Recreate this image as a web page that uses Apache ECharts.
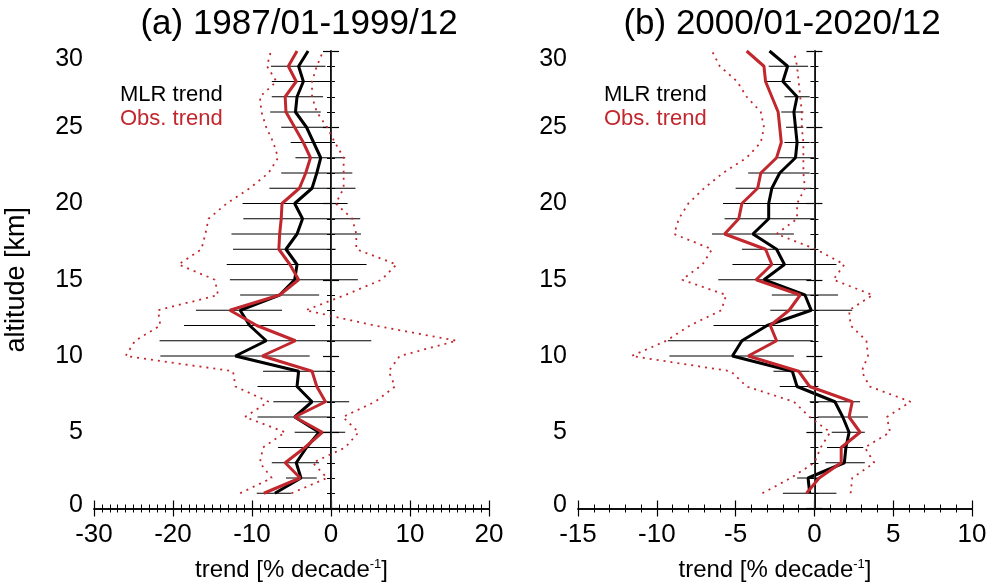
<!DOCTYPE html>
<html>
<head>
<meta charset="utf-8">
<script src="https://cdn.jsdelivr.net/npm/echarts@6/dist/echarts.min.js"></script>
<style>
  html, body { margin: 0; padding: 0; background: #fff; }
  #chart { width: 990px; height: 587px; }
</style>
</head>
<body>
<div id="chart"></div>
<script>
// altitude levels [km]
const ALT = [1, 2, 3, 4, 5, 6, 7, 8, 9, 10, 11, 12, 13, 14, 15, 16, 17, 18, 19, 20,
             21, 22, 23, 24, 25, 26, 27, 28, 29, 30];
const ALT_ERR = ALT.slice(0, 29); // error bars only drawn 1..29 km

// (a) 1987/01-1999/12
const A_MLR = [-7.1, -3.8, -4.4, -3.1, -1.5, -4.6, -2.4, -4.3, -4.1, -12.1, -8.2, -10.3, -11.5, -6.5, -4.6,
               -4.3, -5.7, -4.3, -3.6, -4.6, -2.4, -1.8, -1.3, -2.2, -3.1, -4.5, -4.3, -3.5, -4.1, -2.9];
const A_OBS = [-8.5, -3.9, -5.8, -3.3, -1.1, -4.6, -0.7, -1.8, -2.4, -8.7, -4.5, -9.4, -12.8, -6.5, -4.1,
               -5.2, -6.6, -6.5, -6.3, -6.2, -4.0, -3.2, -2.6, -3.5, -4.6, -5.7, -5.8, -4.4, -5.4, -4.3];
const A_OBS_LO = [-11.5, -7.5, -9.0, -8.6, -5.8, -10.9, -7.9, -12.1, -12.4, -26.0, -24.8, -21.6, -21.9, -14.3, -14.7,
                  -19.3, -16.4, -15.9, -15.5, -13.2, -10.3, -7.9, -6.7, -7.3, -8.2, -8.8, -9.0, -6.9, -8.1, -7.6];
const A_OBS_HI = [-5.0, -0.5, -2.3, 1.8, 3.5, 1.5, 5.6, 8.1, 7.3, 8.7, 15.9, 5.5, -3.2, 1.8, 6.4,
                  8.3, 3.2, 3.2, 2.7, 0.6, 1.6, 1.6, 1.6, 0.5, -0.5, -1.8, -2.4, -2.4, -1.8, -1.0];
const A_ERR_LO = [-9.4, -5.7, -7.5, -6.7, -4.6, -9.3, -7.3, -9.3, -8.6, -21.6, -21.7, -18.6, -17.1, -11.5, -12.8,
                  -13.2, -12.4, -12.6, -11.1, -11.2, -7.8, -6.3, -4.5, -5.1, -6.3, -7.7, -7.5, -7.5, -7.6];
const A_ERR_HI = [-5.0, -1.8, -1.5, 0.7, 1.8, 0.0, 2.3, 0.5, 0.2, -2.7, 5.1, -2.0, -6.2, -1.5, 3.4,
                  4.5, 0.6, 3.8, 3.7, 2.1, 3.1, 2.7, 1.8, 0.5, -0.4, -1.3, -1.0, -0.3, -0.7];

// (b) 2000/01-2020/12
const B_MLR = [-0.3, -0.4, 1.9, 2.0, 2.2, 1.8, 1.3, -1.1, -1.4, -5.2, -4.6, -3.0, -0.2, -0.6, -3.2,
               -1.9, -2.4, -3.9, -2.9, -2.9, -2.7, -2.2, -1.2, -1.1, -1.2, -1.3, -1.1, -2.0, -1.7, -2.85];
const B_OBS = [-0.5, 0.3, 1.7, 1.7, 2.9, 2.2, 2.4, -0.3, -1.0, -4.2, -2.4, -2.8, -1.6, -0.9, -3.7,
               -2.7, -3.1, -5.7, -4.8, -4.6, -3.6, -3.4, -2.4, -2.1, -2.2, -2.3, -2.7, -3.1, -3.2, -4.3];
const B_OBS_LO = [-3.3, -1.5, 0.0, 0.4, 1.0, -0.3, -1.3, -4.3, -5.3, -11.6, -9.4, -7.9, -5.9, -5.6, -8.4,
                  -7.1, -6.5, -8.9, -8.6, -8.0, -7.0, -5.8, -4.3, -3.4, -3.2, -3.4, -4.3, -4.9, -6.0, -6.5];
const B_OBS_HI = [2.3, 2.4, 3.8, 3.2, 4.8, 4.6, 6.1, 3.5, 3.0, 3.4, 3.3, 2.3, 2.2, 3.7, 1.2,
                  1.9, 0.1, -2.4, -1.1, -1.1, -0.6, -0.7, -0.7, -0.7, -0.8, -0.8, -0.9, -1.0, -1.1, -1.3];
const B_ERR_LO = [-2.0, -1.1, 0.7, 0.8, 1.1, 0.2, -0.3, -2.2, -2.6, -9.2, -9.3, -6.4, -2.8, -2.7, -6.1,
                  -5.2, -4.6, -6.5, -5.7, -5.8, -5.0, -4.2, -2.3, -1.9, -1.8, -2.1, -1.9, -3.1, -2.9];
const B_ERR_HI = [1.4, 0.4, 3.2, 3.1, 3.2, 3.4, 2.9, -0.1, -0.3, -1.3, -0.1, 0.1, 2.4, 1.5, -0.2,
                  1.4, 0.0, -1.3, 0.0, -0.1, -0.2, -0.3, 0.1, -0.3, -0.7, -0.7, -0.3, -1.5, -0.4];

const TITLES = ['(a) 1987/01-1999/12', '(b) 2000/01-2020/12'];
const X_RANGES = [[-30, 20, 10, 10], [-15, 10, 5, 5]]; // min, max, interval, minor splits

const RED = '#c1272d';
const FONT = '"Liberation Sans", Arial, sans-serif';

const pair = (xs) => xs.map((v, i) => [v, ALT[i]]);
const errPairs = (lo, hi) => lo.map((v, i) => [v, hi[i], ALT_ERR[i]]);

function xAxes(k) {
    const r = X_RANGES[k];
    const base = {
        type: 'value', gridIndex: k, min: r[0], max: r[1], interval: r[2],
        axisLine: { lineStyle: { color: '#000', width: 1.5 } },
        axisTick: { inside: true, length: 8, lineStyle: { color: '#000', width: 1.2 } },
        minorTick: { show: true, splitNumber: r[3], length: 4, lineStyle: { color: '#000', width: 1 } },
        splitLine: { show: false }
    };
    return [
        Object.assign({}, base, {
            position: 'bottom',
            axisLabel: { color: '#000', fontSize: 26, fontFamily: FONT, margin: 13 },
            name: 'trend [% decade{sup|-1}]',
            nameLocation: 'middle', nameGap: 49,
            nameTextStyle: {
                color: '#000', fontSize: 24, fontFamily: FONT,
                rich: { sup: { fontSize: 13, fontFamily: FONT, color: '#000', padding: [0, 0, 12, 0] } }
            }
        }),
        Object.assign({}, base, { position: 'top', axisLabel: { show: false } })
    ];
}

function yAxes(k) {
    const base = {
        type: 'value', gridIndex: k, min: 0, max: 30, interval: 5,
        axisLine: { lineStyle: { color: '#000', width: 1.5 } },
        axisTick: { inside: true, length: 8, lineStyle: { color: '#000', width: 1.2 } },
        minorTick: { show: true, splitNumber: 5, length: 4, lineStyle: { color: '#000', width: 1 } },
        splitLine: { show: false }
    };
    const left = Object.assign({}, base, {
        position: 'left',
        axisLabel: {
            color: '#000', fontSize: 25, fontFamily: FONT, margin: 11,
            formatter: v => v === 0 ? '{lo|0}' : (v === 30 ? '{hi|30}' : String(v)),
            rich: {
                lo: { fontSize: 25, fontFamily: FONT, color: '#000', padding: [0, 0, 7, 0] },
                hi: { fontSize: 25, fontFamily: FONT, color: '#000', padding: [16, 0, 0, 0] }
            }
        }
    });
    if (k === 0) {
        left.name = 'altitude [km]';
        left.nameLocation = 'middle';
        left.nameRotate = 90;
        left.nameGap = 64;
        left.nameTextStyle = { color: '#000', fontSize: 27, fontFamily: FONT };
    }
    return [left, Object.assign({}, base, { position: 'right', axisLabel: { show: false } })];
}

function errBarItem(params, api) {
    const y = api.value(2);
    const p1 = api.coord([api.value(0), y]);
    const p2 = api.coord([api.value(1), y]);
    return {
        type: 'line',
        shape: { x1: p1[0], y1: p1[1], x2: p2[0], y2: p2[1] },
        style: { stroke: '#000', lineWidth: 1 }
    };
}

function panelSeries(k, mlr, obs, lo, hi, eLo, eHi) {
    const ax = { xAxisIndex: 2 * k, yAxisIndex: 2 * k };
    const dotted = { color: RED, width: 1.8, type: [2, 5] };
    return [
        Object.assign({
            type: 'custom', name: 'MLR uncertainty', renderItem: errBarItem,
            encode: { x: [0, 1], y: 2 }, data: errPairs(eLo, eHi), z: 2
        }, ax),
        Object.assign({
            type: 'line', name: 'Obs. lower', data: pair(lo), symbol: 'none',
            lineStyle: dotted, z: 3
        }, ax),
        Object.assign({
            type: 'line', name: 'Obs. upper', data: pair(hi), symbol: 'none',
            lineStyle: dotted, z: 3
        }, ax),
        Object.assign({
            type: 'line', name: 'MLR trend', data: pair(mlr), symbol: 'none',
            lineStyle: { color: '#000', width: 3 }, itemStyle: { color: '#000' }, z: 4,
            markLine: {
                silent: true, symbol: 'none', label: { show: false },
                lineStyle: { color: '#333', width: 1, type: 'solid' },
                data: [{ xAxis: 0 }]
            }
        }, ax),
        Object.assign({
            type: 'line', name: 'Obs. trend', data: pair(obs), symbol: 'none',
            lineStyle: { color: RED, width: 3 }, itemStyle: { color: RED }, z: 5
        }, ax)
    ];
}

function legendFor(k, left) {
    return {
        left: left, top: 79, orient: 'vertical', itemWidth: 0, itemHeight: 0, itemGap: 2,
        selectedMode: false, icon: 'rect',
        textStyle: { fontSize: 22, fontFamily: FONT },
        data: [
            { name: 'MLR trend', textStyle: { color: '#000' } },
            { name: 'Obs. trend', textStyle: { color: RED } }
        ]
    };
}

const chart = echarts.init(document.getElementById('chart'));
chart.setOption({
    animation: false,
    backgroundColor: '#fff',
    title: [
        { text: TITLES[0], left: 294, top: 2, textAlign: 'center',
          textStyle: { fontSize: 35, fontWeight: 'normal', color: '#000', fontFamily: FONT } },
        { text: TITLES[1], left: 777, top: 2, textAlign: 'center',
          textStyle: { fontSize: 35, fontWeight: 'normal', color: '#000', fontFamily: FONT } }
    ],
    legend: [legendFor(0, 110), legendFor(1, 594)],
    grid: [
        { left: 94, right: 501, top: 51, bottom: 74 },
        { left: 578, right: 18, top: 51, bottom: 74 }
    ],
    xAxis: xAxes(0).concat(xAxes(1)),
    yAxis: yAxes(0).concat(yAxes(1)),
    series: panelSeries(0, A_MLR, A_OBS, A_OBS_LO, A_OBS_HI, A_ERR_LO, A_ERR_HI)
        .concat(panelSeries(1, B_MLR, B_OBS, B_OBS_LO, B_OBS_HI, B_ERR_LO, B_ERR_HI))
});
</script>
</body>
</html>
